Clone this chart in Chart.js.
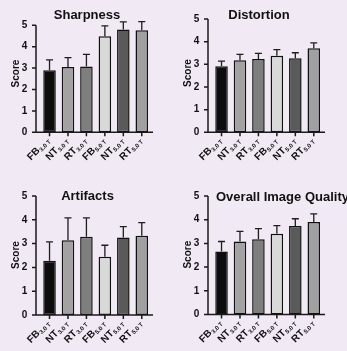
<!DOCTYPE html>
<html><head><meta charset="utf-8">
<script src="https://cdn.jsdelivr.net/npm/chart.js@4"></script>
<style>
html,body{margin:0;padding:0;background:#f1e9f4;}
#wrap{position:relative;width:347px;height:351px;overflow:hidden;background:#f1e9f4;}
canvas{position:absolute;}
</style></head><body><div id="wrap">
<canvas id="c1" width="173" height="175" style="left:0;top:0"></canvas>
<canvas id="c2" width="175" height="175" style="left:172px;top:0"></canvas>
<canvas id="c3" width="173" height="176" style="left:0;top:175px"></canvas>
<canvas id="c4" width="175" height="176" style="left:172px;top:175px"></canvas>
</div>
<script>
// ---- data ----
const groups = ['FB','NT','RT','FB','NT','RT'];
const fieldStrengths = ['3.0 T','3.0 T','3.0 T','5.0 T','5.0 T','5.0 T'];
const categories = groups.map((g,i)=>g+' '+fieldStrengths[i]);
const yTicks = [0,1,2,3,4,5];
const yAxisTitle = 'Score';

const sharpnessMean  = [2.90, 3.05, 3.08, 4.49, 4.80, 4.77];
const sharpnessSD    = [0.48, 0.44, 0.56, 0.48, 0.36, 0.40];
const distortionMean = [2.91, 3.18, 3.24, 3.38, 3.27, 3.71];
const distortionSD   = [0.23, 0.26, 0.24, 0.27, 0.24, 0.24];
const artifactsMean  = [2.28, 3.14, 3.29, 2.45, 3.26, 3.33];
const artifactsSD    = [0.79, 0.94, 0.79, 0.48, 0.45, 0.55];
const overallMean    = [2.66, 3.08, 3.17, 3.41, 3.73, 3.90];
const overallSD      = [0.42, 0.43, 0.45, 0.34, 0.31, 0.35];

const barColors = ['#0c0c0c','#a2a2a2','#7e7e7e','#d9d9d9','#5a5a5a','#a0a0a0'];
const FONT = '"Liberation Sans", Arial, sans-serif';

const custom = {
  id: 'custom',
  afterDatasetsDraw(chart) {
    const p = chart.options.plugins.custom;
    const ctx = chart.ctx, x = chart.scales.x, y = chart.scales.y;
    const y0 = y.getPixelForValue(0), y5 = y.getPixelForValue(5);
    ctx.save();
    // error bars
    ctx.strokeStyle = '#1e1e1e'; ctx.lineWidth = 1.3;
    chart.data.datasets[0].data.forEach((v,i)=>{
      const cx = x.getPixelForTick(i);
      const yt = y.getPixelForValue(v), ye = y.getPixelForValue(v + p.sd[i]);
      ctx.beginPath();
      ctx.moveTo(cx, yt); ctx.lineTo(cx, ye);
      ctx.moveTo(cx-3.5, ye); ctx.lineTo(cx+3.5, ye);
      ctx.stroke();
    });
    // axes
    ctx.strokeStyle = '#1a1a1a'; ctx.lineWidth = 1.5;
    ctx.beginPath();
    ctx.moveTo(p.axisX, y5); ctx.lineTo(p.axisX, y0); ctx.lineTo(p.axisRight, y0);
    yTicks.forEach(t=>{ const py = y.getPixelForValue(t); ctx.moveTo(p.axisX-4, py); ctx.lineTo(p.axisX, py); });
    categories.forEach((c,i)=>{ const cx = x.getPixelForTick(i); ctx.moveTo(cx, y0); ctx.lineTo(cx, y0+4); });
    ctx.stroke();
    // x labels with subscript
    ctx.fillStyle = '#111';
    categories.forEach((c,i)=>{
      const cx = x.getPixelForTick(i);
      ctx.save();
      ctx.translate(cx-1, y0+7);
      ctx.rotate(-Math.PI/4);
      ctx.textAlign = 'right'; ctx.textBaseline = 'middle';
      ctx.font = 'bold 6px ' + FONT;
      const sw = ctx.measureText(fieldStrengths[i]).width;
      ctx.fillText(fieldStrengths[i], 0, 2.5);
      ctx.font = 'bold 10px ' + FONT;
      ctx.fillText(groups[i], -sw - 0.5, 0);
      ctx.restore();
    });
    // y axis title
    ctx.save();
    ctx.translate(16, p.scoreY);
    ctx.rotate(-Math.PI/2);
    ctx.textAlign = 'center'; ctx.textBaseline = 'middle';
    ctx.font = 'bold 10px ' + FONT;
    ctx.fillText(yAxisTitle, 0, 0);
    ctx.restore();
    // chart title
    ctx.font = 'bold 13px ' + FONT;
    ctx.textAlign = p.titleAlign; ctx.textBaseline = 'middle';
    ctx.fillText(p.title, p.titleX, p.titleY);
    ctx.restore();
  }
};

function make(id, mean, sd, cfg) {
  const cv = document.getElementById(id);
  const W = cv.width, H = cv.height;
  new Chart(cv, {
    type: 'bar',
    data: { labels: categories, datasets: [{ data: mean, backgroundColor: barColors, borderColor: '#111', borderWidth: 1.5, borderSkipped: false, barPercentage: 0.68, categoryPercentage: 1 }] },
    options: {
      responsive: false, animation: false, devicePixelRatio: 1,
      layout: { padding: { top: cfg.T, right: W - cfg.R, left: 0, bottom: 0 } },
      plugins: { legend: { display: false }, tooltip: { enabled: false }, title: { display: false },
        custom: Object.assign({ sd: sd }, cfg) },
      scales: {
        x: { grid: { display: false }, border: { display: false }, ticks: { display: false },
             afterFit: s => { s.height = H - cfg.B; } },
        y: { min: 0, max: 5, grid: { display: false, drawTicks: false }, border: { display: false },
             ticks: { stepSize: 1, padding: 13, color: '#111', font: { family: FONT, weight: 'bold', size: 10 } },
             afterFit: s => { s.width = cfg.L; } }
      }
    },
    plugins: [custom]
  });
}

make('c1', sharpnessMean, sharpnessSD, { L: 40.3, R: 151, T: 25.3, B: 132.3, axisX: 36, axisRight: 153, title: 'Sharpness', titleX: 87, titleY: 15, titleAlign: 'center', scoreY: 73.5 });
make('c2', distortionMean, distortionSD, { L: 40.3, R: 151, T: 15, B: 132.3, axisX: 36, axisRight: 153, title: 'Distortion', titleX: 87, titleY: 15, titleAlign: 'center', scoreY: 73 });
make('c3', artifactsMean, artifactsSD, { L: 40.3, R: 151, T: 21, B: 140, axisX: 36, axisRight: 153, title: 'Artifacts', titleX: 87.5, titleY: 21.7, titleAlign: 'center', scoreY: 80 });
make('c4', overallMean, overallSD, { L: 40.3, R: 151, T: 21, B: 139.5, axisX: 36, axisRight: 153, title: 'Overall Image Quality', titleX: 44, titleY: 22, titleAlign: 'left', scoreY: 79.7 });
</script></body></html>
